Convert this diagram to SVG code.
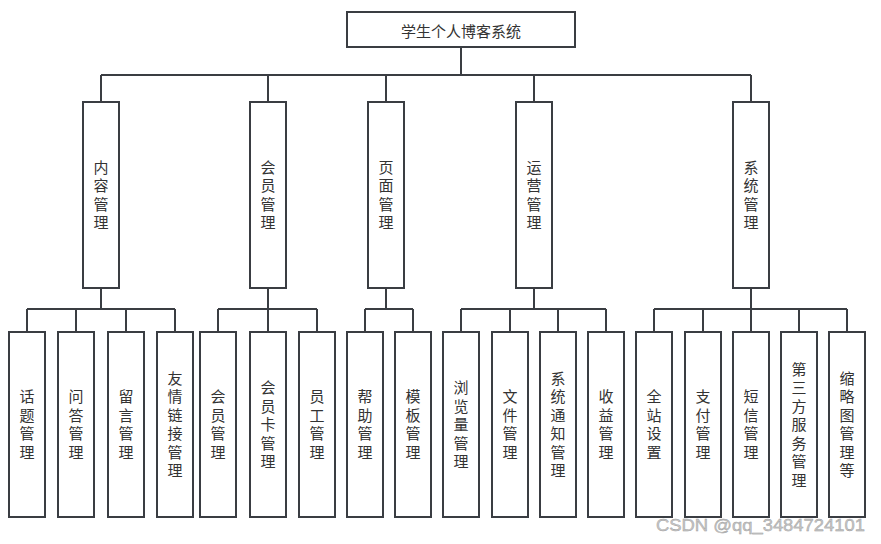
<svg xmlns="http://www.w3.org/2000/svg" width="881" height="544" viewBox="0 0 881 544">
<style>
.box{fill:#fff;stroke:#3a3d42;stroke-width:2}
.ln{fill:none;stroke:#3a3d42;stroke-width:2}
.t{font-family:"Noto Sans CJK SC","Microsoft YaHei",sans-serif;font-size:15px;fill:#333;text-anchor:middle;dominant-baseline:central}
.v{font-family:"Noto Sans CJK SC","Microsoft YaHei",sans-serif;font-size:15px;fill:#333;text-anchor:middle;dominant-baseline:central;writing-mode:vertical-rl;letter-spacing:3.5px}
.wm{font-family:"Liberation Sans",Arial,sans-serif;font-size:17px;fill:#c8c8c8;stroke:#9a9a9a;stroke-width:0.4}
</style>
<rect width="881" height="544" fill="#fff"/>
<g id="connectors">
<path class="ln" d="M461 47V75M101 75H751M101 75V102M268 75V102M386 75V102M534 75V102M751 75V102"/>
<path class="ln" d="M101 288V309M27 309H175M27 309V332M76 309V332M126 309V332M175 309V332"/>
<path class="ln" d="M268 288V309M218 309H317M218 309V332M268 309V332M317 309V332"/>
<path class="ln" d="M386 288V309M365 309H413M365 309V332M413 309V332"/>
<path class="ln" d="M534 288V309M461 309H606M461 309V332M510 309V332M558 309V332M606 309V332"/>
<path class="ln" d="M751 288V309M654 309H847M654 309V332M703 309V332M751 309V332M799 309V332M847 309V332"/>
</g>
<g id="root"><rect class="box" x="347" y="12" width="228" height="35"/><text class="t" x="461" y="30">学生个人博客系统</text></g>
<g id="m1"><rect class="box" x="83" y="102" width="36" height="186"/><text class="v" x="101" y="196.75">内容管理</text></g>
<g id="m2"><rect class="box" x="250" y="102" width="36" height="186"/><text class="v" x="268" y="196.75">会员管理</text></g>
<g id="m3"><rect class="box" x="368" y="102" width="36" height="186"/><text class="v" x="386" y="196.75">页面管理</text></g>
<g id="m4"><rect class="box" x="516" y="102" width="36" height="186"/><text class="v" x="534" y="196.75">运营管理</text></g>
<g id="m5"><rect class="box" x="733" y="102" width="36" height="186"/><text class="v" x="751" y="196.75">系统管理</text></g>

<g id="b1"><rect class="box" x="9" y="332" width="36" height="185"/><text class="v" x="27" y="426.25">话题管理</text></g>
<g id="b2"><rect class="box" x="58" y="332" width="36" height="185"/><text class="v" x="76" y="426.25">问答管理</text></g>
<g id="b3"><rect class="box" x="108" y="332" width="36" height="185"/><text class="v" x="126" y="426.25">留言管理</text></g>
<g id="b4"><rect class="box" x="157" y="332" width="36" height="185"/><text class="v" x="175" y="426.25">友情链接管理</text></g>
<g id="b5"><rect class="box" x="200" y="332" width="36" height="185"/><text class="v" x="218" y="426.25">会员管理</text></g>
<g id="b6"><rect class="box" x="250" y="332" width="36" height="185"/><text class="v" x="268" y="426.25">会员卡管理</text></g>
<g id="b7"><rect class="box" x="299" y="332" width="36" height="185"/><text class="v" x="317" y="426.25">员工管理</text></g>
<g id="b8"><rect class="box" x="347" y="332" width="36" height="185"/><text class="v" x="365" y="426.25">帮助管理</text></g>
<g id="b9"><rect class="box" x="395" y="332" width="36" height="185"/><text class="v" x="413" y="426.25">模板管理</text></g>
<g id="b10"><rect class="box" x="443" y="332" width="36" height="185"/><text class="v" x="461" y="426.25">浏览量管理</text></g>
<g id="b11"><rect class="box" x="492" y="332" width="36" height="185"/><text class="v" x="510" y="426.25">文件管理</text></g>
<g id="b12"><rect class="box" x="540" y="332" width="36" height="185"/><text class="v" x="558" y="426.25">系统通知管理</text></g>
<g id="b13"><rect class="box" x="588" y="332" width="36" height="185"/><text class="v" x="606" y="426.25">收益管理</text></g>
<g id="b14"><rect class="box" x="636" y="332" width="36" height="185"/><text class="v" x="654" y="426.25">全站设置</text></g>
<g id="b15"><rect class="box" x="685" y="332" width="36" height="185"/><text class="v" x="703" y="426.25">支付管理</text></g>
<g id="b16"><rect class="box" x="733" y="332" width="36" height="185"/><text class="v" x="751" y="426.25">短信管理</text></g>
<g id="b17"><rect class="box" x="781" y="332" width="36" height="185"/><text class="v" x="799" y="426.25">第三方服务管理</text></g>
<g id="b18"><rect class="box" x="829" y="332" width="36" height="185"/><text class="v" x="847" y="426.25">缩略图管理等</text></g>
<text class="wm" x="656" y="531" textLength="209" lengthAdjust="spacingAndGlyphs">CSDN @qq_3484724101</text>
</svg>
